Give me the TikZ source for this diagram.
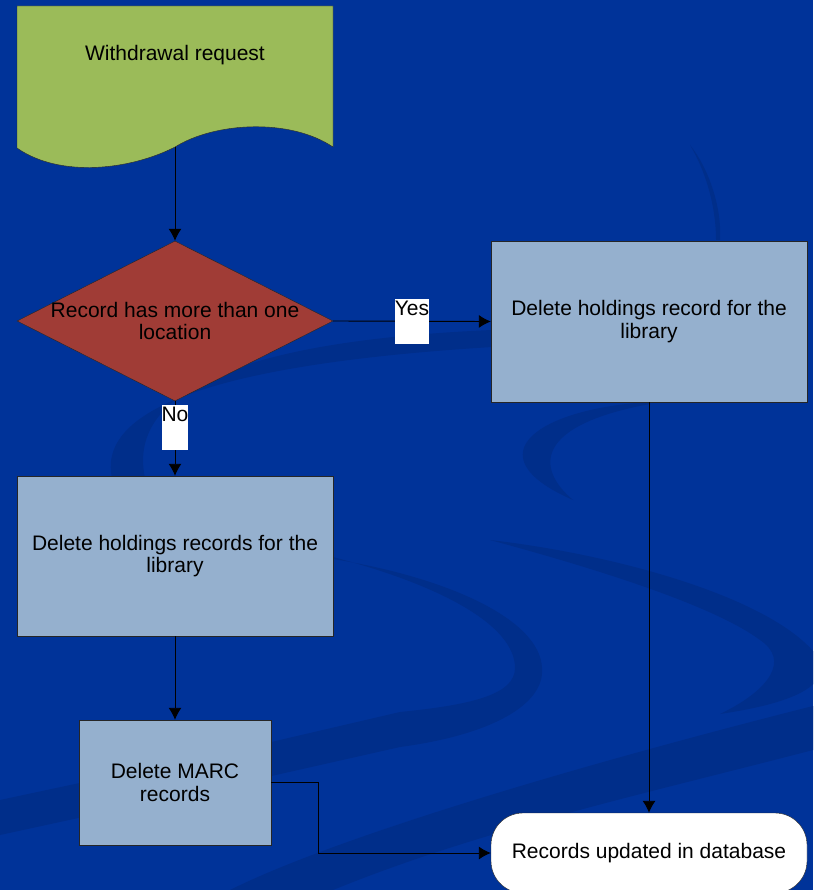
\documentclass[tikz,border=0pt]{standalone}
\usepackage{fontspec}
\setmainfont{Liberation Sans}
\usetikzlibrary{shapes.geometric,arrows.meta}

\definecolor{slideblue}{RGB}{0,51,153}
\definecolor{swoosh}{RGB}{0,46,138}
\definecolor{reqgreen}{RGB}{155,187,89}
\definecolor{stepblue}{RGB}{149,176,206}
\definecolor{choicered}{RGB}{160,60,54}

\begin{document}
\begin{tikzpicture}[x=1pt,y=-1pt,>={Latex[length=12pt,width=13pt]},
        font=\fontsize{21}{22.5}\selectfont,
        every node/.style={align=center},
        stepbox/.style={draw=black!85,fill=stepblue,inner sep=0pt},
        decision/.style={diamond,draw=black!85,fill=choicered,inner sep=0pt,
            minimum width=316pt,minimum height=160pt},
        answer/.style={fill=white,inner sep=0pt,text height=17pt,text depth=28pt},
        link/.style={->,line width=0.9pt}]

        % draw the slide background
        \useasboundingbox (0,0) rectangle (813,890);
        \clip (0,0) rectangle (813,890);
        \fill[slideblue] (0,0) rectangle (813,890);

        % draw the swooshes of the slide
        \fill[swoosh] (112,478) .. controls (95,400) and (250,362) .. (492,347)
            -- (492,330) .. controls (260,340) and (125,385) .. (145,478) -- cycle;
        \fill[swoosh] (650,402) .. controls (540,408) and (470,455) .. (573,500)
            .. controls (535,468) and (535,425) .. (650,404) -- cycle;
        \fill[swoosh] (333,557) .. controls (440,585) and (515,625) .. (515,668)
            .. controls (515,695) and (470,705) .. (400,712) -- (267,743) -- (0,800)
            -- (0,835) -- (267,777) -- (400,747)
            .. controls (490,735) and (545,705) .. (542,668)
            .. controls (540,620) and (450,578) .. (333,559) -- cycle;
        \fill[swoosh] (490,540) .. controls (620,555) and (780,600) .. (820,660)
            .. controls (830,690) and (780,705) .. (720,714)
            .. controls (770,690) and (790,660) .. (760,640)
            .. controls (720,610) and (620,575) .. (490,540) -- cycle;
        \fill[swoosh] (813,706) -- (813,750) .. controls (640,795) and (480,830) .. (333,890)
            -- (230,890) .. controls (330,840) and (560,770) .. (813,706) -- cycle;
        \fill[swoosh] (690,145) .. controls (710,170) and (722,210) .. (720,240)
            -- (716,240) .. controls (716,205) and (705,170) .. (690,145) -- cycle;

        % draw the request document
        \draw[draw=black!85,fill=reqgreen] (17,6) -- (333,6) -- (333,147)
            .. controls (290,118) and (215,122) .. (175,147)
            .. controls (130,170) and (60,178) .. (17,148) -- cycle;
        \node (req) at (175,55) {Withdrawal request};
        \coordinate (reqfoot) at (175,147);

        % draw the steps
        \node[decision] (cond) at (175,321) {};
        \node (condtext) at (cond.center) {Record has more than one\\location};
        \node[stepbox,minimum width=316pt,minimum height=161pt] (del1) at (649,321.5)
            {Delete holdings record for the\\library};
        \node[stepbox,minimum width=316pt,minimum height=160pt] (del2) at (175,556)
            {Delete holdings records for the\\library};
        \node[stepbox,minimum width=192pt,minimum height=125pt] (marc) at (175,782.5)
            {Delete MARC\\records};
        \node[draw=black!85,fill=white,rounded corners=32pt,inner sep=0pt,
            minimum width=316pt,minimum height=80pt] (done) at (649,853)
            {Records updated in database};

        % draw the connectors
        \draw[link] (reqfoot) -- (cond.north);
        \draw[link] (cond.east) -- (del1.west) node[answer,midway] (yes) {Yes};
        \draw[link] (cond.south) -- (del2.north) node[answer,pos=0.35] (no) {No};
        \foreach \a/\b in {del2/marc, del1/done}
                \draw[link] (\a.south) -- (\b.north);
        \draw[link] (marc.east) -- ++(47,0) |- (done.west);
\end{tikzpicture}
\end{document}
